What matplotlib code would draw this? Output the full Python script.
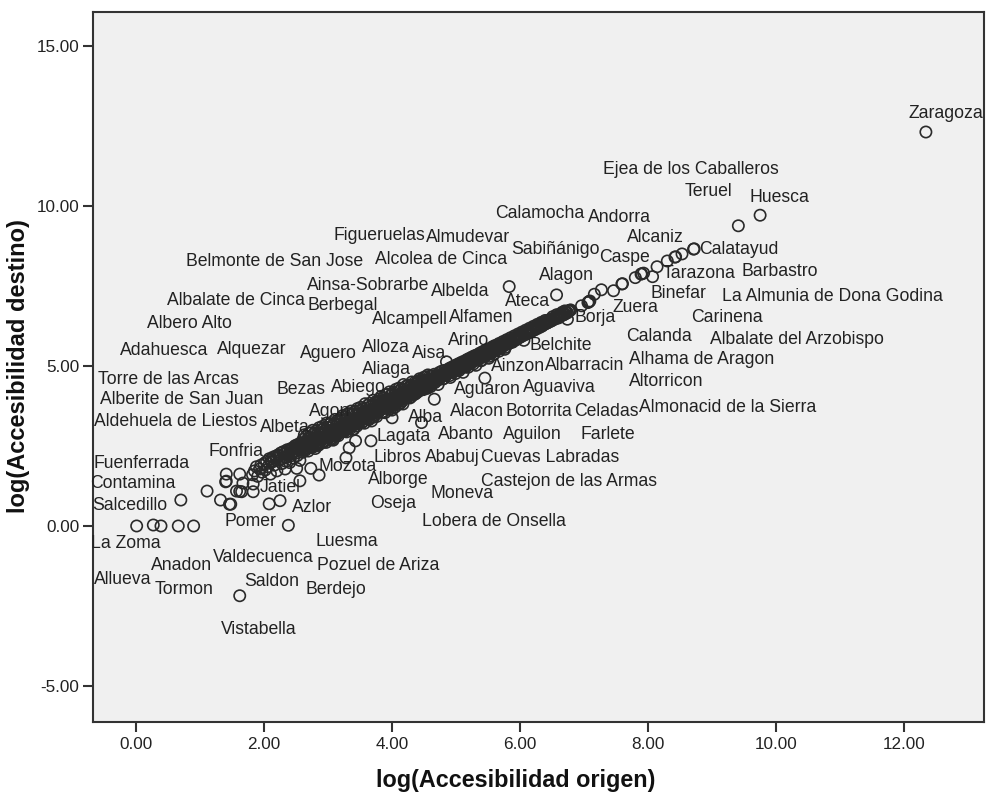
#!/usr/bin/env python3
"""Scatter of log accessibility, origin against destination, with municipality labels"""

import matplotlib
matplotlib.use('Agg')
import matplotlib.pyplot as plt

# isolated points
outer_x = [0.01, 0.27, 0.39, 0.66, 0.90, 0.70, 1.11, 1.32, 1.46, 1.48, 2.08, 2.25, 2.38, 1.62,
           1.41, 1.62, 1.40, 1.41, 1.67, 1.83, 1.57, 1.65, 1.62, 1.83, 2.56, 2.86, 2.73, 2.51,
           2.33, 3.28, 3.33, 3.43, 3.67, 5.83, 6.57, 5.45, 4.66, 4.46, 4.00, 12.34]
outer_y = [0.00, 0.03, 0.00, 0.00, 0.00, 0.81, 1.09, 0.81, 0.68, 0.68, 0.69, 0.79, 0.02, -2.18,
           1.62, 1.62, 1.38, 1.40, 1.34, 1.31, 1.09, 1.07, 1.08, 1.07, 1.41, 1.59, 1.80, 1.80,
           1.78, 2.13, 2.44, 2.66, 2.66, 7.48, 7.22, 4.62, 3.96, 3.23, 3.38, 12.31]

# upper tail of the band
upper_x = [9.75, 9.41, 8.72, 8.71, 8.53, 8.42, 8.43, 8.30, 8.14, 8.07, 7.93, 7.89, 7.90, 7.80,
           7.59, 7.60, 7.46, 7.27, 7.16, 7.08, 7.07, 7.09, 7.06, 6.96, 6.77, 6.78, 6.76, 6.79, 6.74]
upper_y = [9.71, 9.38, 8.66, 8.65, 8.50, 8.40, 8.41, 8.28, 8.10, 7.79, 7.90, 7.87, 7.88, 7.76,
           7.56, 7.57, 7.35, 7.38, 7.24, 7.01, 7.00, 7.03, 6.98, 6.88, 6.73, 6.74, 6.71, 6.75, 6.46]

# dense band, lower end
low_x = [1.82, 1.85, 1.88, 1.90, 1.93, 1.95, 1.97, 2.00, 2.02, 2.04,
         2.06, 2.08, 2.10, 2.12, 2.14, 2.16, 2.18, 2.20, 2.22, 2.24,
         2.26, 2.28, 2.30, 2.32, 2.34, 2.36, 2.38, 2.40, 2.42, 2.44,
         2.46, 2.48, 2.50, 2.50, 2.52, 2.54, 2.55, 2.56, 2.58, 2.60,
         2.11, 2.15, 2.19, 2.23, 2.27, 2.31, 2.33, 2.35, 2.37, 2.39,
         2.41, 2.43, 2.45, 2.47, 2.49, 2.51, 2.53, 2.57, 2.59, 2.61,
         2.62, 2.63, 2.64, 2.65, 2.66, 2.67, 2.68, 2.69, 2.70, 2.71]
low_y = [1.60, 1.72, 1.85, 1.55, 1.78, 1.90, 1.68, 1.95, 1.75, 2.02,
         1.85, 2.10, 1.62, 2.00, 2.15, 1.90, 2.18, 1.72, 2.22, 2.05,
         2.28, 1.95, 2.32, 2.15, 2.02, 2.38, 2.22, 1.98, 2.42, 2.28,
         2.12, 2.50, 2.35, 2.52, 2.20, 2.56, 2.42, 2.05, 2.60, 2.30,
         2.08, 2.02, 2.12, 2.18, 2.10, 2.24, 2.28, 2.14, 2.34, 2.26,
         2.36, 2.20, 2.40, 2.34, 2.44, 2.28, 2.48, 2.38, 2.54, 2.46,
         2.58, 2.40, 2.60, 2.52, 2.62, 2.44, 2.64, 2.56, 2.66, 2.48]

# dense band, middle
mid_x = [2.61, 2.62, 2.63, 2.64, 2.65, 2.66, 2.67, 2.68, 2.69, 2.70,
         2.71, 2.72, 2.73, 2.74, 2.75, 2.76, 2.77, 2.78, 2.79, 2.80,
         2.81, 2.82, 2.83, 2.84, 2.85, 2.86, 2.87, 2.88, 2.89, 2.90,
         2.91, 2.92, 2.93, 2.94, 2.95, 2.96, 2.97, 2.98, 2.99, 3.00,
         3.01, 3.02, 3.03, 3.04, 3.05, 3.06, 3.07, 3.08, 3.09, 3.10,
         3.11, 3.12, 3.13, 3.14, 3.15, 3.16, 3.17, 3.18, 3.19, 3.20,
         3.21, 3.22, 3.23, 3.24, 3.25, 3.26, 3.27, 3.28, 3.29, 3.30,
         3.31, 3.32, 3.33, 3.34, 3.35, 3.36, 3.37, 3.38, 3.39, 3.40,
         3.41, 3.42, 3.43, 3.44, 3.45, 3.46, 3.47, 3.48, 3.49, 3.50,
         3.51, 3.52, 3.53, 3.54, 3.55, 3.56, 3.57, 3.58, 3.59, 3.60,
         3.61, 3.62, 3.63, 3.64, 3.65, 3.66, 3.67, 3.68, 3.69, 3.70,
         3.71, 3.72, 3.73, 3.74, 3.75, 3.76, 3.77, 3.78, 3.79, 3.80,
         3.81, 3.82, 3.83, 3.84, 3.85, 3.86, 3.87, 3.88, 3.89, 3.90,
         3.91, 3.92, 3.93, 3.94, 3.95, 3.96, 3.97, 3.98, 3.99, 4.00,
         4.01, 4.02, 4.03, 4.04, 4.05, 4.06, 4.07, 4.08, 4.09, 4.10,
         4.11, 4.12, 4.13, 4.14, 4.15, 4.16, 4.17, 4.18, 4.19, 4.20,
         4.21, 4.22, 4.23, 4.24, 4.25, 4.26, 4.27, 4.28, 4.29, 4.30,
         4.31, 4.32, 4.33, 4.34, 4.35, 4.36, 4.37, 4.38, 4.39, 4.40,
         4.41, 4.42, 4.43, 4.44, 4.45, 4.46, 4.47, 4.48, 4.49, 4.50,
         4.51, 4.52, 4.53, 4.54, 4.55, 4.56, 4.57, 4.58, 4.59, 4.60]
mid_y = [2.71, 2.50, 2.85, 2.59, 2.37, 2.81, 2.49, 2.71, 2.34, 2.90,
         2.76, 2.50, 2.91, 2.64, 2.45, 2.99, 2.75, 2.63, 2.91, 2.42,
         2.73, 2.98, 2.58, 2.90, 2.52, 3.07, 2.73, 2.89, 2.69, 3.01,
         3.11, 2.86, 2.63, 3.07, 2.78, 2.98, 2.61, 3.22, 2.89, 3.08,
         2.77, 3.17, 2.99, 2.72, 3.23, 2.94, 3.13, 2.68, 3.19, 2.92,
         3.33, 3.03, 2.86, 3.17, 3.29, 2.82, 3.02, 3.26, 2.97, 3.37,
         3.31, 3.10, 3.45, 3.19, 2.97, 3.41, 3.09, 3.31, 2.94, 3.50,
         3.36, 3.10, 3.51, 3.24, 3.05, 3.59, 3.35, 3.23, 3.51, 3.02,
         3.33, 3.58, 3.18, 3.50, 3.12, 3.67, 3.33, 3.49, 3.29, 3.61,
         3.71, 3.46, 3.23, 3.67, 3.38, 3.58, 3.21, 3.82, 3.49, 3.68,
         3.37, 3.77, 3.59, 3.32, 3.83, 3.54, 3.73, 3.28, 3.79, 3.52,
         3.93, 3.63, 3.46, 3.77, 3.89, 3.42, 3.62, 3.86, 3.57, 3.97,
         3.91, 3.70, 4.05, 3.79, 3.57, 4.01, 3.69, 3.91, 3.54, 4.10,
         3.96, 3.70, 4.11, 3.84, 3.65, 4.19, 3.95, 3.83, 4.11, 3.62,
         3.93, 4.18, 3.78, 4.10, 3.72, 4.27, 3.93, 4.09, 3.89, 4.21,
         4.31, 4.06, 3.83, 4.27, 3.98, 4.18, 3.81, 4.42, 4.09, 4.28,
         4.05, 4.37, 4.19, 4.02, 4.40, 4.14, 4.33, 4.00, 4.39, 4.12,
         4.50, 4.23, 4.10, 4.37, 4.48, 4.12, 4.22, 4.46, 4.17, 4.52,
         4.50, 4.32, 4.60, 4.39, 4.25, 4.58, 4.33, 4.51, 4.26, 4.65,
         4.55, 4.33, 4.66, 4.44, 4.30, 4.72, 4.57, 4.45, 4.68, 4.35]

# dense band, thinning out
high_x = [4.62, 4.64, 4.66, 4.68, 4.70, 4.72, 4.74, 4.76, 4.78, 4.80,
          4.82, 4.84, 4.85, 4.87, 4.89, 4.91, 4.93, 4.95, 4.97, 4.99,
          5.01, 5.03, 5.05, 5.07, 5.09, 5.11, 5.13, 5.15, 5.17, 5.19,
          5.21, 5.23, 5.25, 5.27, 5.29, 5.31, 5.33, 5.35, 5.37, 5.39,
          5.41, 5.43, 5.45, 5.47, 5.49, 5.51, 5.53, 5.55, 5.57, 5.59,
          5.61, 5.64, 5.67, 5.70, 5.73, 5.76, 5.79, 5.82, 5.85, 5.88,
          5.91, 5.94, 5.97, 6.00, 6.03, 6.06, 6.09, 6.12, 6.15, 6.18,
          6.21, 6.24, 6.27, 6.30, 6.33, 6.36, 6.39, 6.42, 6.45, 6.48,
          6.51, 6.54, 6.57, 6.60, 6.62, 6.64, 6.66, 6.68, 6.70, 6.72]
high_y = [4.68, 4.50, 4.74, 4.58, 4.72, 4.42, 4.80, 4.66, 4.84, 4.60,
          4.86, 4.70, 5.13, 4.78, 4.92, 4.64, 4.96, 4.82, 5.00, 4.76,
          5.04, 4.88, 5.08, 4.94, 5.12, 4.80, 5.15, 5.00, 5.20, 4.96,
          5.24, 5.08, 5.28, 5.14, 5.32, 5.02, 5.35, 5.20, 5.40, 5.16,
          5.44, 5.28, 5.48, 5.34, 5.52, 5.24, 5.55, 5.40, 5.60, 5.36,
          5.64, 5.50, 5.70, 5.56, 5.76, 5.52, 5.82, 5.70, 5.88, 5.74,
          5.94, 5.82, 6.00, 5.90, 6.06, 5.80, 6.12, 6.02, 6.18, 6.10,
          6.24, 6.16, 6.30, 6.22, 6.36, 6.28, 6.42, 6.34, 6.44, 6.40,
          6.54, 6.48, 6.60, 6.50, 6.62, 6.58, 6.68, 6.60, 6.72, 6.66]

# the solid core of the band
core_x = [2.70, 2.72, 2.73, 2.75, 2.76, 2.78, 2.79, 2.81, 2.82, 2.84,
          2.85, 2.87, 2.88, 2.90, 2.91, 2.93, 2.94, 2.96, 2.97, 2.99,
          3.00, 3.02, 3.03, 3.05, 3.06, 3.08, 3.09, 3.11, 3.12, 3.14,
          3.15, 3.17, 3.18, 3.20, 3.21, 3.23, 3.24, 3.26, 3.27, 3.29,
          3.30, 3.32, 3.33, 3.35, 3.36, 3.38, 3.39, 3.41, 3.42, 3.44,
          3.45, 3.47, 3.48, 3.50, 3.51, 3.53, 3.54, 3.56, 3.57, 3.59,
          3.60, 3.62, 3.63, 3.65, 3.66, 3.68, 3.69, 3.71, 3.72, 3.74,
          3.75, 3.77, 3.78, 3.80, 3.81, 3.83, 3.84, 3.86, 3.87, 3.89,
          3.90, 3.92, 3.93, 3.95, 3.96, 3.98, 3.99, 4.01, 4.02, 4.04,
          4.05, 4.07, 4.08, 4.10, 4.11, 4.13, 4.14, 4.16, 4.17, 4.19,
          4.21, 4.22, 4.24, 4.25, 4.26, 4.27, 4.29, 4.30, 4.31, 4.32,
          4.34, 4.35, 4.36, 4.37, 4.39, 4.40, 4.41, 4.42, 4.44, 4.45,
          4.46, 4.47, 4.49, 4.50, 4.51, 4.52, 4.54, 4.55, 4.56, 4.57,
          4.59, 4.60, 4.61, 4.62, 4.64, 4.65, 4.66, 4.67, 4.69, 4.70,
          4.71, 4.72, 4.74, 4.75, 4.76, 4.77, 4.79, 4.80, 4.81, 4.82,
          4.84, 4.85, 4.86, 4.87, 4.89, 4.90, 4.91, 4.92, 4.94, 4.95,
          4.96, 4.97, 4.99, 5.00, 5.01, 5.02, 5.04, 5.05, 5.06, 5.07,
          5.09, 5.10, 5.11, 5.12, 5.14, 5.15, 5.16, 5.17, 5.19, 5.20,
          5.21, 5.22, 5.24, 5.25, 5.26, 5.27, 5.29, 5.30, 5.31, 5.32,
          5.34, 5.35, 5.36, 5.37, 5.39, 5.40, 5.41, 5.42, 5.44, 5.45,
          5.46, 5.47, 5.49, 5.50, 5.51, 5.52, 5.54, 5.55, 5.56, 5.57,
          5.59, 5.60, 5.61, 5.62, 5.64, 5.65, 5.66, 5.67, 5.69, 5.70,
          5.71, 5.72, 5.74, 5.75, 5.76, 5.77, 5.79, 5.80, 5.81, 5.82,
          5.84, 5.85, 5.86, 5.87, 5.89, 5.90, 5.91, 5.92, 5.94, 5.95,
          5.96, 5.98, 6.00, 6.02, 6.04, 6.06, 6.08, 6.10, 6.12, 6.14,
          6.16, 6.18, 6.20, 6.22, 6.24, 6.26, 6.28, 6.30, 6.32, 6.34,
          6.36, 6.38, 6.40, 6.42, 6.44, 6.46, 6.48, 6.50, 6.52, 6.54,
          6.56, 6.58, 6.60, 6.62, 6.64, 6.66, 6.68, 6.70, 6.72, 6.74]
core_y = [2.58, 2.66, 2.46, 2.70, 2.52, 2.60, 2.74, 2.50, 2.68, 2.56,
          2.78, 2.62, 2.72, 2.84, 2.60, 2.76, 2.88, 2.66, 2.80, 2.70,
          2.90, 2.76, 2.94, 2.82, 2.70, 2.98, 2.86, 3.00, 2.80, 2.92,
          3.04, 2.90, 3.08, 2.94, 3.12, 2.98, 3.16, 2.96, 3.10, 3.02,
          3.20, 3.06, 3.24, 3.12, 3.28, 3.16, 3.02, 3.30, 3.18, 3.34,
          3.24, 3.38, 3.20, 3.42, 3.30, 3.46, 3.26, 3.50, 3.36, 3.54,
          3.42, 3.56, 3.34, 3.60, 3.46, 3.64, 3.50, 3.40, 3.66, 3.54,
          3.70, 3.52, 3.74, 3.60, 3.78, 3.64, 3.82, 3.56, 3.80, 3.68,
          3.84, 3.70, 3.88, 3.76, 3.92, 3.66, 3.94, 3.80, 3.98, 3.84,
          4.00, 3.88, 4.04, 3.80, 4.06, 3.94, 4.10, 3.90, 4.12, 4.00,
          4.14, 4.02, 4.18, 4.08, 4.22, 4.10, 4.24, 4.04, 4.26, 4.16,
          4.28, 4.20, 4.32, 4.16, 4.34, 4.26, 4.38, 4.22, 4.40, 4.30,
          4.42, 4.28, 4.44, 4.36, 4.48, 4.40, 4.50, 4.34, 4.52, 4.44,
          4.54, 4.46, 4.58, 4.42, 4.60, 4.52, 4.62, 4.48, 4.64, 4.58,
          4.68, 4.56, 4.70, 4.62, 4.72, 4.66, 4.76, 4.60, 4.78, 4.70,
          4.80, 4.72, 4.82, 4.76, 4.86, 4.70, 4.88, 4.80, 4.90, 4.84,
          4.92, 4.82, 4.96, 4.88, 4.98, 4.92, 5.00, 4.86, 5.02, 4.96,
          5.06, 4.98, 5.08, 5.02, 5.10, 4.96, 5.12, 5.06, 5.16, 5.08,
          5.18, 5.10, 5.20, 5.14, 5.22, 5.06, 5.26, 5.18, 5.28, 5.20,
          5.30, 5.22, 5.32, 5.26, 5.36, 5.18, 5.38, 5.30, 5.40, 5.34,
          5.42, 5.32, 5.46, 5.38, 5.48, 5.30, 5.50, 5.44, 5.52, 5.46,
          5.56, 5.46, 5.58, 5.50, 5.60, 5.54, 5.62, 5.46, 5.66, 5.58,
          5.68, 5.60, 5.70, 5.64, 5.72, 5.58, 5.76, 5.68, 5.78, 5.70,
          5.80, 5.74, 5.82, 5.76, 5.86, 5.78, 5.88, 5.82, 5.90, 5.84,
          5.93, 5.88, 5.97, 5.92, 6.01, 5.96, 6.05, 6.00, 6.09, 6.04,
          6.13, 6.08, 6.17, 6.12, 6.21, 6.16, 6.25, 6.20, 6.29, 6.24,
          6.33, 6.30, 6.37, 6.34, 6.41, 6.38, 6.45, 6.42, 6.49, 6.46,
          6.53, 6.50, 6.57, 6.54, 6.61, 6.58, 6.65, 6.62, 6.69, 6.66]

x_ticks = [0, 2, 4, 6, 8, 10, 12]
y_ticks = [-5, 0, 5, 10, 15]

# point labels: name, centre in image pixels
labels = [
    ('Zaragoza', 946, 113), ('Ejea de los Caballeros', 691, 169), ('Teruel', 708, 192),
    ('Huesca', 779, 197), ('Calamocha', 540, 213), ('Andorra', 619, 217),
    ('Alcaniz', 655, 238), ('Figueruelas', 379, 235), ('Almudevar', 468, 237),
    ('Sabiñánigo', 555, 250), ('Alcolea de Cinca', 441, 259), ('Belmonte de San Jose', 275, 262),
    ('Caspe', 624, 258), ('Calatayud', 739, 249), ('Tarazona', 699, 273),
    ('Barbastro', 780, 272), ('Alagon', 566, 275), ('Ainsa-Sobrarbe', 368, 285),
    ('Albelda', 460, 292), ('Binefar', 678, 294), ('La Almunia de Dona Godina', 832, 296),
    ('Albalate de Cinca', 236, 301), ('Berbegal', 343, 305), ('Ateca', 528, 302),
    ('Alcampell', 410, 319), ('Alfamen', 481, 317), ('Zuera', 635, 308),
    ('Borja', 595, 318), ('Carinena', 727, 317), ('Albero Alto', 189, 324),
    ('Calanda', 659, 336), ('Albalate del Arzobispo', 797, 340), ('Alloza', 386, 347),
    ('Arino', 469, 341), ('Belchite', 561, 345), ('Adahuesca', 164, 351),
    ('Alquezar', 252, 349), ('Aguero', 328, 354), ('Aisa', 429, 354),
    ('Alhama de Aragon', 702, 360), ('Aliaga', 386, 369), ('Ainzon', 518, 366),
    ('Albarracin', 585, 365), ('Torre de las Arcas', 168, 379), ('Altorricon', 666, 382),
    ('Bezas', 301, 389), ('Abiego', 358, 388), ('Aguaron', 487, 390),
    ('Aguaviva', 559, 388), ('Alberite de San Juan', 182, 400), ('Almonacid de la Sierra', 728, 407),
    ('Agon', 330, 412), ('Alba', 426, 417), ('Alacon', 477, 412),
    ('Botorrita', 539, 412), ('Celadas', 606, 411), ('Aldehuela de Liestos', 176, 422),
    ('Albeta', 285, 427), ('Lagata', 404, 436), ('Abanto', 466, 435),
    ('Aguilon', 532, 435), ('Farlete', 608, 435), ('Fonfria', 236, 451),
    ('Libros', 397, 458), ('Ababuj', 452, 458), ('Cuevas Labradas', 550, 458),
    ('Fuenferrada', 142, 463), ('Mozota', 348, 466), ('Contamina', 133, 484),
    ('Alborge', 398, 479), ('Castejon de las Armas', 569, 481), ('Jatiel', 280, 487),
    ('Moneva', 462, 494), ('Salcedillo', 130, 506), ('Azlor', 312, 507),
    ('Oseja', 393, 503), ('Pomer', 250, 521), ('Lobera de Onsella', 494, 521),
    ('La Zoma', 126, 544), ('Luesma', 347, 542), ('Valdecuenca', 263, 557),
    ('Anadon', 182, 565), ('Pozuel de Ariza', 378, 565), ('Allueva', 123, 579),
    ('Saldon', 272, 581), ('Tormon', 184, 589), ('Berdejo', 336, 589),
    ('Vistabella', 259, 629),
]

plt.rcParams['font.family'] = ['Liberation Sans', 'DejaVu Sans']

W, H = 988, 796
fig = plt.figure(figsize=(W / 100, H / 100), dpi=100, facecolor='white')
ax = fig.add_axes([92.5 / W, 1 - 721.5 / H, 891 / W, 709.5 / H], facecolor='#f0f0f0')

origen = outer_x + upper_x + low_x + mid_x + high_x + core_x
destino = outer_y + upper_y + low_y + mid_y + high_y + core_y
ax.scatter(origen, destino, s=66, facecolors='none', edgecolors='#2a2a2a', linewidths=1.2, zorder=3)

ax.set_xlim(-0.68, 13.24)
ax.set_ylim(-6.11, 16.06)
ax.set_xticks(x_ticks)
ax.set_yticks(y_ticks)
ax.set_xticklabels([f'{v:.2f}' for v in x_ticks])
ax.set_yticklabels([f'{v:.2f}' for v in y_ticks])
ax.tick_params(axis='both', length=7.5, width=1.5, color='#333333', labelsize=12.3,
               labelcolor='#222222')
ax.tick_params(axis='x', pad=4)
ax.tick_params(axis='y', pad=2)
for spine in ax.spines.values():
    spine.set_linewidth(1.5)
    spine.set_color('#333333')

for name, px, py in labels:
    fig.text(px / W, 1 - py / H, name, ha='center', va='center', fontsize=12.7, color='#222222', zorder=5)

fig.text(516 / W, 1 - 781 / H, 'log(Accesibilidad origen)', ha='center', va='center',
         fontsize=16.8, fontweight='bold', color='#111111')
fig.text(19 / W, 1 - 366 / H, 'log(Accesibilidad destino)', ha='center', va='center', rotation=90,
         fontsize=17, fontweight='bold', color='#111111')

plt.savefig('out.png', dpi=100, facecolor='white')
